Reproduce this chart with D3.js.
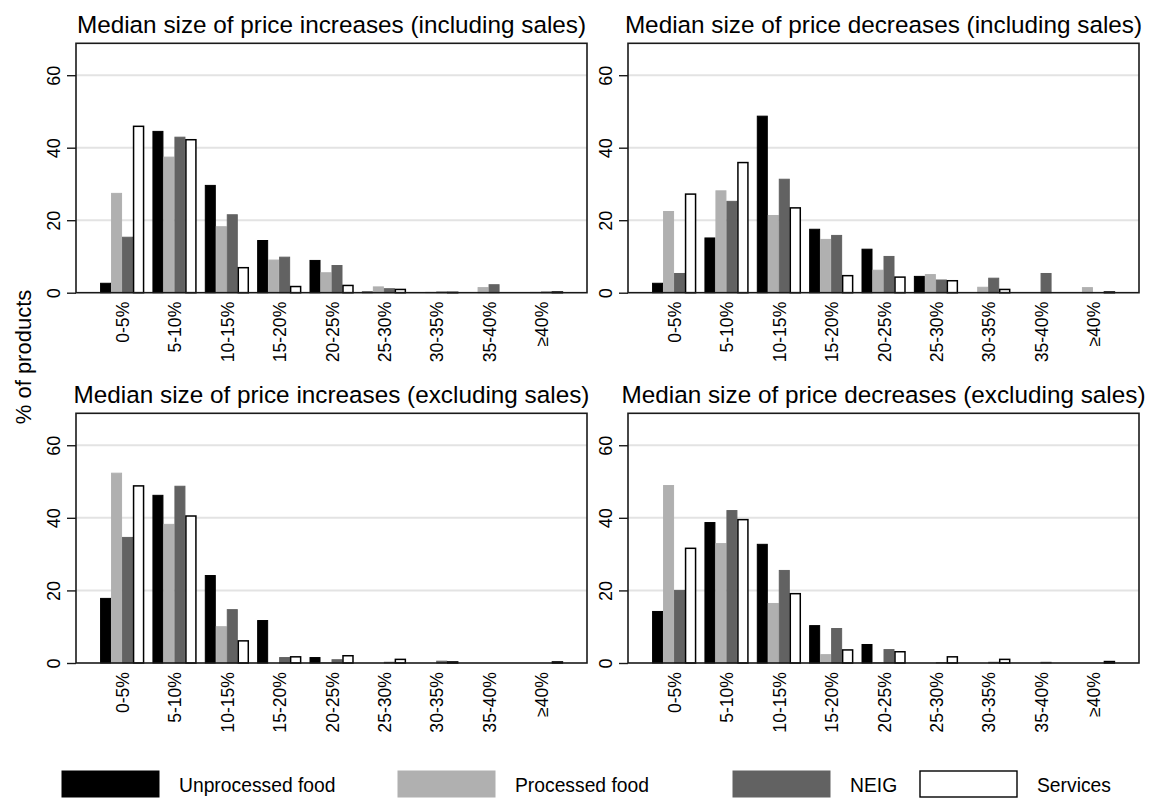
<!DOCTYPE html>
<html>
<head>
<meta charset="utf-8">
<script src="https://cdn.jsdelivr.net/npm/d3@7"></script>
<style>
  html, body { margin: 0; padding: 0; background: #fff; }
  svg { display: block; font-family: "Liberation Sans", Arial, Helvetica, sans-serif; }
</style>
</head>
<body>
<svg id="chart" width="1149" height="798"></svg>
<script>
// ---------- data ----------
const categories = ["0-5%", "5-10%", "10-15%", "15-20%", "20-25%", "25-30%", "30-35%", "35-40%", "≥40%"];
const seriesNames = ["Unprocessed food", "Processed food", "NEIG", "Services"];
const yTicks = [0, 20, 40, 60];
const panelTitles = [
  "Median size of price increases (including sales)",
  "Median size of price decreases (including sales)",
  "Median size of price increases (excluding sales)",
  "Median size of price decreases (excluding sales)"
];

// Panel 1: increases, including sales
const incIncl_unprocessed = [2.6, 44.5, 29.6, 14.4, 8.9, 0.2, 0, 0, 0];
const incIncl_processed   = [27.4, 37.4, 18.2, 9.0, 5.5, 1.6, 0.1, 1.4, 0.1];
const incIncl_neig        = [15.3, 42.9, 21.5, 9.8, 7.5, 1.1, 0.2, 2.2, 0.2];
const incIncl_services    = [45.9, 42.2, 6.9, 1.7, 2.0, 0.9, 0.1, 0, 0.2];

// Panel 2: decreases, including sales
const decIncl_unprocessed = [2.6, 15.1, 48.7, 17.5, 12.0, 4.5, 0, 0, 0];
const decIncl_processed   = [22.4, 28.1, 21.3, 14.7, 6.2, 5.0, 1.5, 0, 1.4];
const decIncl_neig        = [5.3, 25.2, 31.3, 15.8, 10.0, 3.5, 4.0, 5.3, 0];
const decIncl_services    = [27.2, 35.9, 23.4, 4.7, 4.3, 3.3, 0.9, 0, 0.2];

// Panel 3: increases, excluding sales
const incExcl_unprocessed = [17.8, 46.2, 24.1, 11.7, 1.5, 0, 0, 0, 0];
const incExcl_processed   = [52.3, 38.2, 10.0, 0, 0.1, 0, 0, 0, 0];
const incExcl_neig        = [34.6, 48.7, 14.7, 1.5, 0.9, 0.2, 0.5, 0, 0];
const incExcl_services    = [48.8, 40.5, 6.1, 1.7, 2.0, 1.0, 0.3, 0, 0.3];

// Panel 4: decreases, excluding sales
const decExcl_unprocessed = [14.2, 38.7, 32.7, 10.3, 5.1, 0, 0, 0, 0];
const decExcl_processed   = [48.9, 32.9, 16.4, 2.3, 0.1, 0, 0, 0, 0];
const decExcl_neig        = [20.0, 42.0, 25.5, 9.5, 3.7, 0.1, 0.2, 0.2, 0];
const decExcl_services    = [31.6, 39.5, 19.1, 3.6, 3.1, 1.7, 1.0, 0, 0.4];

const panelSeries = [
  [incIncl_unprocessed, incIncl_processed, incIncl_neig, incIncl_services],
  [decIncl_unprocessed, decIncl_processed, decIncl_neig, decIncl_services],
  [incExcl_unprocessed, incExcl_processed, incExcl_neig, incExcl_services],
  [decExcl_unprocessed, decExcl_processed, decExcl_neig, decExcl_services]
];

// ---------- styles / layout ----------
const fills   = ["#000000", "#b0b0b0", "#626262", "#ffffff"];
const strokes = ["#000000", "#b0b0b0", "#626262", "#000000"];
const cols = [{x0: 76, x1: 587}, {x0: 628, x1: 1139}];
const rows = [{top: 43.3, base: 292.7, titleY: 33}, {top: 413.3, base: 663, titleY: 403}];
const yMax = 68.8;

const svg = d3.select("#chart");

panelTitles.forEach((title, pi) => {
  const c = cols[pi % 2], r = rows[Math.floor(pi / 2)];
  const g = svg.append("g");

  const x = d3.scaleBand().domain(categories).range([c.x0, c.x1])
    .paddingInner(0.16).paddingOuter(0.46);
  const xs = d3.scaleBand().domain(seriesNames).range([0, x.bandwidth()]);
  const y = d3.scaleLinear().domain([0, yMax]).range([r.base, r.top]);

  // gridlines
  g.selectAll("line.grid").data(yTicks.filter(t => t > 0)).join("line")
    .attr("x1", c.x0).attr("x2", c.x1)
    .attr("y1", d => y(d)).attr("y2", d => y(d))
    .attr("stroke", "#e3e3e3").attr("stroke-width", 2);

  // bars
  const data = [];
  panelSeries[pi].forEach((vals, si) => {
    vals.forEach((v, ci) => data.push({cat: categories[ci], s: si, v}));
  });
  g.selectAll("rect.bar").data(data.filter(d => d.v > 0)).join("rect")
    .attr("x", d => x(d.cat) + xs(seriesNames[d.s]) + 0.5)
    .attr("width", xs.bandwidth() - 1)
    .attr("y", d => y(d.v))
    .attr("height", d => y(0) - y(d.v))
    .attr("fill", d => fills[d.s])
    .attr("stroke", d => strokes[d.s])
    .attr("stroke-width", d => d.s === 3 ? 1.5 : 1);

  // frame
  g.append("rect")
    .attr("x", c.x0).attr("y", r.top)
    .attr("width", c.x1 - c.x0).attr("height", r.base - r.top)
    .attr("fill", "none").attr("stroke", "#1a1a1a").attr("stroke-width", 1.6);

  // y axis (ticks + rotated labels)
  const yAxis = d3.axisLeft(y).tickValues(yTicks).tickSize(9).tickPadding(7);
  const ya = g.append("g").attr("transform", `translate(${c.x0},0)`).call(yAxis);
  ya.select(".domain").remove();
  ya.selectAll(".tick line").attr("stroke", "#1a1a1a").attr("stroke-width", 1.4);
  ya.selectAll(".tick text")
    .attr("x", null).attr("dy", null)
    .attr("transform", "translate(-16,0) rotate(-90)")
    .attr("text-anchor", "middle")
    .attr("font-size", 18).attr("fill", "#000")
    .attr("font-family", "Liberation Sans, Arial, sans-serif");

  // x axis labels (rotated)
  const xAxis = d3.axisBottom(x).tickSize(0).tickPadding(0);
  const xa = g.append("g").attr("transform", `translate(0,${r.base})`).call(xAxis);
  xa.select(".domain").remove();
  xa.selectAll(".tick text")
    .attr("y", null).attr("dy", null)
    .attr("transform", "translate(7,9) rotate(-90)")
    .attr("text-anchor", "end")
    .attr("font-size", 17.6).attr("fill", "#000")
    .attr("font-family", "Liberation Sans, Arial, sans-serif");

  // title
  g.append("text")
    .attr("x", (c.x0 + c.x1) / 2).attr("y", r.titleY)
    .attr("text-anchor", "middle")
    .attr("font-size", 24.3)
    .text(title);
});

// y axis title
svg.append("text")
  .attr("transform", "translate(31,357) rotate(-90)")
  .attr("text-anchor", "middle")
  .attr("font-size", 22)
  .text("% of products");

// legend
const legendBoxX = [62, 398, 733, 920];
const legend = svg.append("g");
seriesNames.forEach((name, i) => {
  legend.append("rect")
    .attr("x", legendBoxX[i]).attr("y", 771)
    .attr("width", 97).attr("height", 26)
    .attr("fill", fills[i])
    .attr("stroke", i === 3 ? "#000" : fills[i])
    .attr("stroke-width", i === 3 ? 1.4 : 1);
  legend.append("text")
    .attr("x", legendBoxX[i] + 117).attr("y", 792)
    .attr("font-size", 19.3)
    .text(name);
});
</script>
</body>
</html>
